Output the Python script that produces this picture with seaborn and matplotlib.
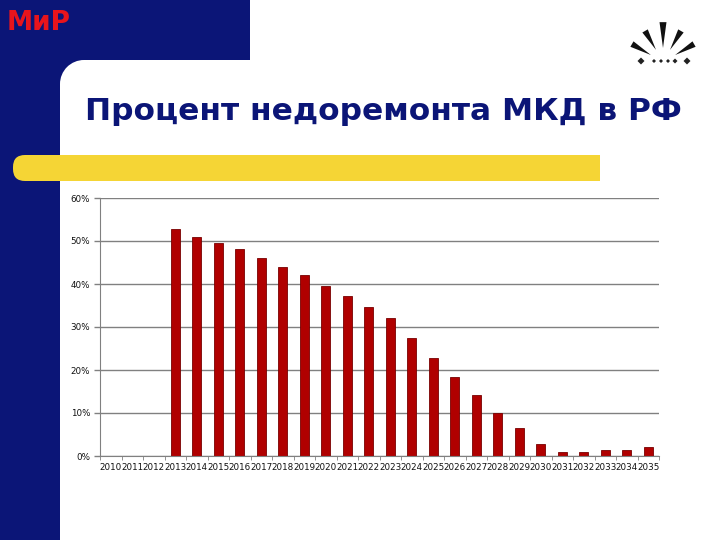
import seaborn as sns
import matplotlib.pyplot as plt
import pandas as pd
from matplotlib.patches import Rectangle, FancyBboxPatch, Polygon, Circle
import numpy as np

# data
years = [str(y) for y in range(2010, 2036)]
underrepair = [0, 0, 0, 52.8, 51.0, 49.6, 48.2, 46.1, 44.0, 42.1, 39.5, 37.2, 34.6,
               32.1, 27.4, 22.7, 18.3, 14.1, 10.1, 6.4, 2.9, 1.0, 1.0, 1.5, 1.5, 2.2]
y_ticks = [0, 10, 20, 30, 40, 50, 60]
y_labels = ['0%', '10%', '20%', '30%', '40%', '50%', '60%']

df = pd.DataFrame({'year': years, 'pct': underrepair})

sns.set_style('white')
plt.rcParams['font.family'] = ['DejaVu Sans']

navy = '#0b1577'
fig = plt.figure(figsize=(7.2, 5.4), dpi=100)

# slide background drawn in pixel coordinates
bg = fig.add_axes([0, 0, 1, 1])
bg.set_xlim(0, 720)
bg.set_ylim(540, 0)
bg.axis('off')
bg.add_patch(Rectangle((0, 0), 60, 540, color=navy, lw=0))
bg.add_patch(Rectangle((0, 0), 250, 60, color=navy, lw=0))
# rounded inner corner of the white area
bg.add_patch(Rectangle((60, 60), 24, 24, color=navy, lw=0))
bg.add_patch(Circle((84, 84), 24, color='white', lw=0))
bg.add_patch(Rectangle((84, 60), 700, 24, color='white', lw=0))
bg.add_patch(Rectangle((60, 84), 24, 500, color='white', lw=0))
bg.add_patch(FancyBboxPatch((13, 155), 60, 26, boxstyle='round,pad=0,rounding_size=12',
                            fc='#f5d535', ec='none'))
bg.add_patch(Rectangle((40, 155), 560, 26, color='#f5d535', lw=0))

bg.text(7, 23, 'МиР', color='#e8141c', fontsize=19, fontweight='bold',
        va='center', ha='left')
bg.text(383, 111, 'Процент недоремонта МКД в РФ', color=navy, fontsize=22.5,
        fontweight='bold', va='center', ha='center')

# small fireworks logo
cx, cy = 663, 62
for ang in [90, 60, 120, 30, 150]:
    a = np.deg2rad(ang)
    r0, r1 = 14, 40 if ang == 90 else 36
    w = np.deg2rad(5)
    pts = [(cx + r0 * np.cos(a), cy - r0 * np.sin(a)),
           (cx + r1 * np.cos(a - w), cy - r1 * np.sin(a - w)),
           (cx + r1 * np.cos(a + w), cy - r1 * np.sin(a + w))]
    bg.add_patch(Polygon(pts, closed=True, color='#111111', lw=0))
for x, s in [(641, 3.5), (654, 2), (661, 2), (668, 2), (675, 2.5), (687, 3.5)]:
    bg.add_patch(Polygon([(x - s, 61), (x, 61 - s), (x + s, 61), (x, 61 + s)],
                         closed=True, color='#222222', lw=0))

# chart
ax = fig.add_axes([100 / 720, 1 - 456 / 540, 559 / 720, 258 / 540])
sns.barplot(data=df, x='year', y='pct', color='#b00000', width=0.42,
            edgecolor='#780000', linewidth=0.6, saturation=1, ax=ax)
ax.set_ylim(0, 60)
ax.set_xlim(-0.5, len(years) - 0.5)
ax.set_yticks(y_ticks)
ax.set_yticklabels(y_labels, fontsize=6.3)
ax.tick_params(axis='x', labelsize=6.3, length=0, pad=5, labelcolor='#111111')
ax.tick_params(axis='y', length=4, color='#808080', width=1, pad=3, left=True,
               labelcolor='#111111')
ax.set_xticks(np.arange(-0.5, len(years), 1), minor=True)
ax.tick_params(axis='x', which='minor', length=3, color='#808080', bottom=True)
ax.yaxis.grid(True, color='#808080', lw=1)
ax.set_axisbelow(True)
for side in ['top', 'right']:
    ax.spines[side].set_visible(False)
for side in ['left', 'bottom']:
    ax.spines[side].set_color('#808080')
ax.set_xlabel('')
ax.set_ylabel('')

fig.savefig('out.png', dpi=100)
